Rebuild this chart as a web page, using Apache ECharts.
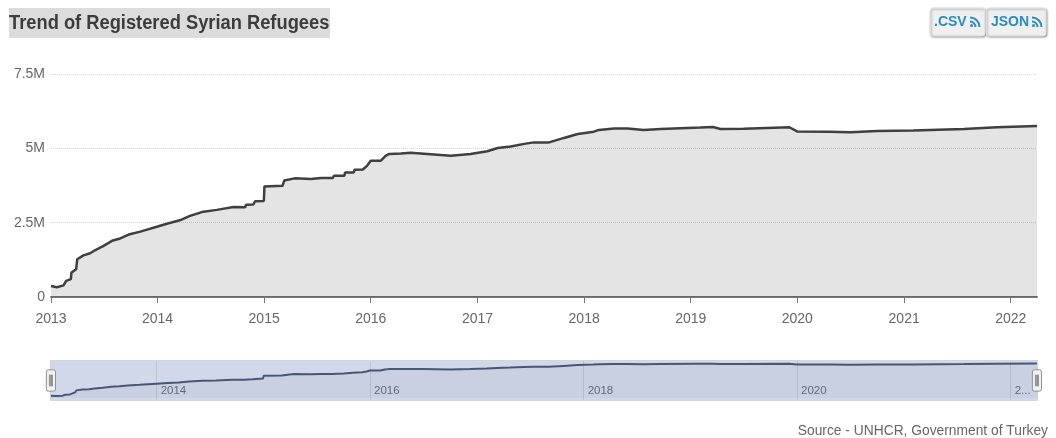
<!DOCTYPE html>
<html>
<head>
<meta charset="utf-8">
<style>html,body{margin:0;padding:0;background:#fff}#c{width:1056px;height:438px}</style>
<script src="https://cdn.jsdelivr.net/npm/echarts@6/dist/echarts.min.js"></script>
</head>
<body>
<div id="c"></div>
<script>
const dates = ['2013-01-01','2013-01-21','2013-02-13','2013-02-22','2013-03-10','2013-03-12','2013-03-28','2013-04-01','2013-04-22','2013-05-15','2013-06-02','2013-06-30','2013-07-29','2013-08-26','2013-09-24','2013-11-03',
'2014-01-01','2014-02-08','2014-03-18','2014-04-22','2014-06-07','2014-07-23','2014-09-18','2014-10-28','2014-10-31','2014-11-25','2014-12-01','2014-12-31',
'2015-01-02','2015-03-05','2015-03-11','2015-04-15','2015-06-10','2015-07-15','2015-08-24','2015-08-28','2015-10-03','2015-10-05','2015-11-04','2015-11-07','2015-12-05','2015-12-20',
'2016-01-01','2016-02-04','2016-02-21','2016-03-04','2016-04-13','2016-05-17','2016-07-01','2016-10-01','2016-12-08',
'2017-02-03','2017-03-11','2017-04-24','2017-06-10','2017-07-13','2017-09-03','2017-09-09','2017-10-24','2017-12-10',
'2018-02-03','2018-02-21','2018-04-13','2018-05-30','2018-07-24','2018-09-20',
'2019-02-03','2019-03-18','2019-04-13','2019-07-01','2019-12-05','2019-12-31',
'2020-04-20','2020-07-01','2020-10-01','2021-02-01','2021-07-25','2021-11-15','2022-04-01'];
const refugees = [0.37,0.33,0.39,0.54,0.60,0.82,0.93,1.27,1.40,1.47,1.58,1.72,1.89,1.97,2.10,2.20,
2.37,2.48,2.58,2.73,2.87,2.93,3.03,3.02,3.10,3.11,3.22,3.23,
3.72,3.74,3.92,3.99,3.97,4.00,4.00,4.08,4.08,4.19,4.19,4.28,4.29,4.42,
4.58,4.58,4.75,4.81,4.83,4.85,4.82,4.75,4.81,
4.90,5.01,5.06,5.15,5.20,5.20,5.26,5.35,5.48,
5.56,5.62,5.67,5.67,5.62,5.65,
5.70,5.72,5.65,5.66,5.71,5.57,
5.56,5.54,5.58,5.60,5.65,5.71,5.75];
const mainYears = [2013,2014,2015,2016,2017,2018,2019,2020,2021,2022];
const miniYears = [2014,2016,2018,2020,2022];
const yTicks = [0,2.5,5,7.5];

const points = dates.map((d,i)=>[Date.parse(d+'T00:00:00Z'),refugees[i]]);
const ts = y => Date.UTC(y,0,1);
const xMin = Date.parse('2013-01-01T00:00:00Z'), xMax = Date.parse('2022-04-01T00:00:00Z');
const font = '"Liberation Sans", Arial, sans-serif';
const handle = 'path://M2 0H7Q9 0 9 2V19Q9 21 7 21H2Q0 21 0 19V2Q0 0 2 0ZM3 5V16H3.9V5ZM5.1 5V16H6V5Z';
const blue = '#2b8cc4';

function rssIcon(x,y){
  return [
    {type:'circle',z:11,shape:{cx:x+1.5,cy:y+9.5,r:1.5},style:{fill:blue}},
    {type:'arc',z:11,shape:{cx:x,cy:y+11,r:5.5,startAngle:-Math.PI/2,endAngle:0},style:{stroke:blue,lineWidth:2,fill:null}},
    {type:'arc',z:11,shape:{cx:x,cy:y+11,r:9.5,startAngle:-Math.PI/2,endAngle:0},style:{stroke:blue,lineWidth:2,fill:null}}
  ];
}
function button(x,w,label,tx,ix){
  return {type:'group',children:[
    {type:'rect',shape:{x:x,y:8,width:w,height:28,r:3},style:{fill:'#efefef',stroke:'#e2e2e2',lineWidth:1,shadowColor:'rgba(0,0,0,0.35)',shadowBlur:2,shadowOffsetX:1,shadowOffsetY:1},z:10},
    {type:'text',x:tx,y:15,z:11,style:{text:label,font:'bold 14px '+font,fill:blue}}
  ].concat(rssIcon(ix,16))};
}

const chart = echarts.init(document.getElementById('c'),null,{renderer:'canvas'});
chart.setOption({
  animation:false,
  backgroundColor:'#fff',
  textStyle:{fontFamily:font},
  title:[
    {text:'Source - UNHCR, Government of Turkey',right:8,top:424,padding:0,
     textStyle:{fontFamily:font,fontWeight:'normal',fontSize:13.8,color:'#666'}}
  ],
  grid:[
    {left:51,right:19,top:74,height:223},
    {left:50,right:19,top:360,height:41}
  ],
  xAxis:[
    {type:'value',gridIndex:0,min:xMin,max:xMax,
     axisLine:{show:true,onZero:false,lineStyle:{color:'#777',width:2}},
     axisTick:{show:true,length:6,lineStyle:{color:'#777',width:1},customValues:mainYears.map(ts)},
     axisLabel:{show:true,color:'#666',fontSize:14,margin:15,
       customValues:mainYears.map(ts),formatter:v=>String(new Date(v).getUTCFullYear())},
     splitLine:{show:false}},
    {type:'value',gridIndex:1,min:xMin,max:xMax,z:3,
     axisLine:{show:false},
     axisTick:{show:false,customValues:miniYears.map(ts)},
     axisLabel:{show:true,inside:true,align:'left',color:'#6e6e6e',fontSize:11.5,margin:4,padding:[0,0,0,4],
       customValues:miniYears.map(ts),
       formatter:v=>{const y=new Date(v).getUTCFullYear();return y===2022?'2...':String(y);}},
     splitLine:{show:true,showMinLine:true,showMaxLine:true,lineStyle:{color:'#e4e4e4',width:1}}}
  ],
  yAxis:[
    {type:'value',gridIndex:0,min:0,max:7.5,interval:2.5,
     axisLine:{show:false},axisTick:{show:false},
     axisLabel:{color:'#666',fontSize:14,margin:6,formatter:v=>yTicks.includes(v)?(v===0?'0':v+'M'):''},
     splitLine:{show:true,lineStyle:{color:'#d6d6d6',type:'dotted',width:1}}},
    {type:'value',gridIndex:1,min:-0.5,max:6.33,show:false,splitLine:{show:false}}
  ],
  dataZoom:[{
    type:'slider',xAxisIndex:0,start:0,end:100,filterMode:'none',
    left:49,right:19,top:360,height:41,
    showDetail:false,showDataShadow:false,brushSelect:false,moveHandleSize:0,
    backgroundColor:'rgba(0,0,0,0)',
    fillerColor:'rgba(59,92,168,0.24)',
    borderColor:'#d5d5d5',borderRadius:0,
    handleIcon:handle,handleSize:'52%',
    handleStyle:{color:'#f2f2f2',borderColor:'#8f8f8f',borderWidth:1}
  }],
  series:[
    {type:'line',xAxisIndex:0,yAxisIndex:0,data:points,showSymbol:false,symbol:'none',
     lineStyle:{color:'#3f3f3f',width:2.5},
     areaStyle:{color:'rgba(0,0,0,0.105)',opacity:1}},
    {type:'line',xAxisIndex:1,yAxisIndex:1,data:points,showSymbol:false,symbol:'none',
     lineStyle:{color:'#4e5466',width:2},
     areaStyle:{color:'rgba(0,0,0,0.04)',opacity:1}}
  ],
  graphic:[
    {type:'rect',z:10,shape:{x:9,y:8,width:321,height:30},style:{fill:'#dcdcdc'}},
    {type:'text',z:11,x:9,y:13,scaleX:0.915,style:{text:'Trend of Registered Syrian Refugees',font:'bold 20px '+font,fill:'#3c3c3c'}},
    button(930,55,'.CSV',934,970),
    button(986,60,'JSON',991,1032)
  ]
});
</script>
</body>
</html>
